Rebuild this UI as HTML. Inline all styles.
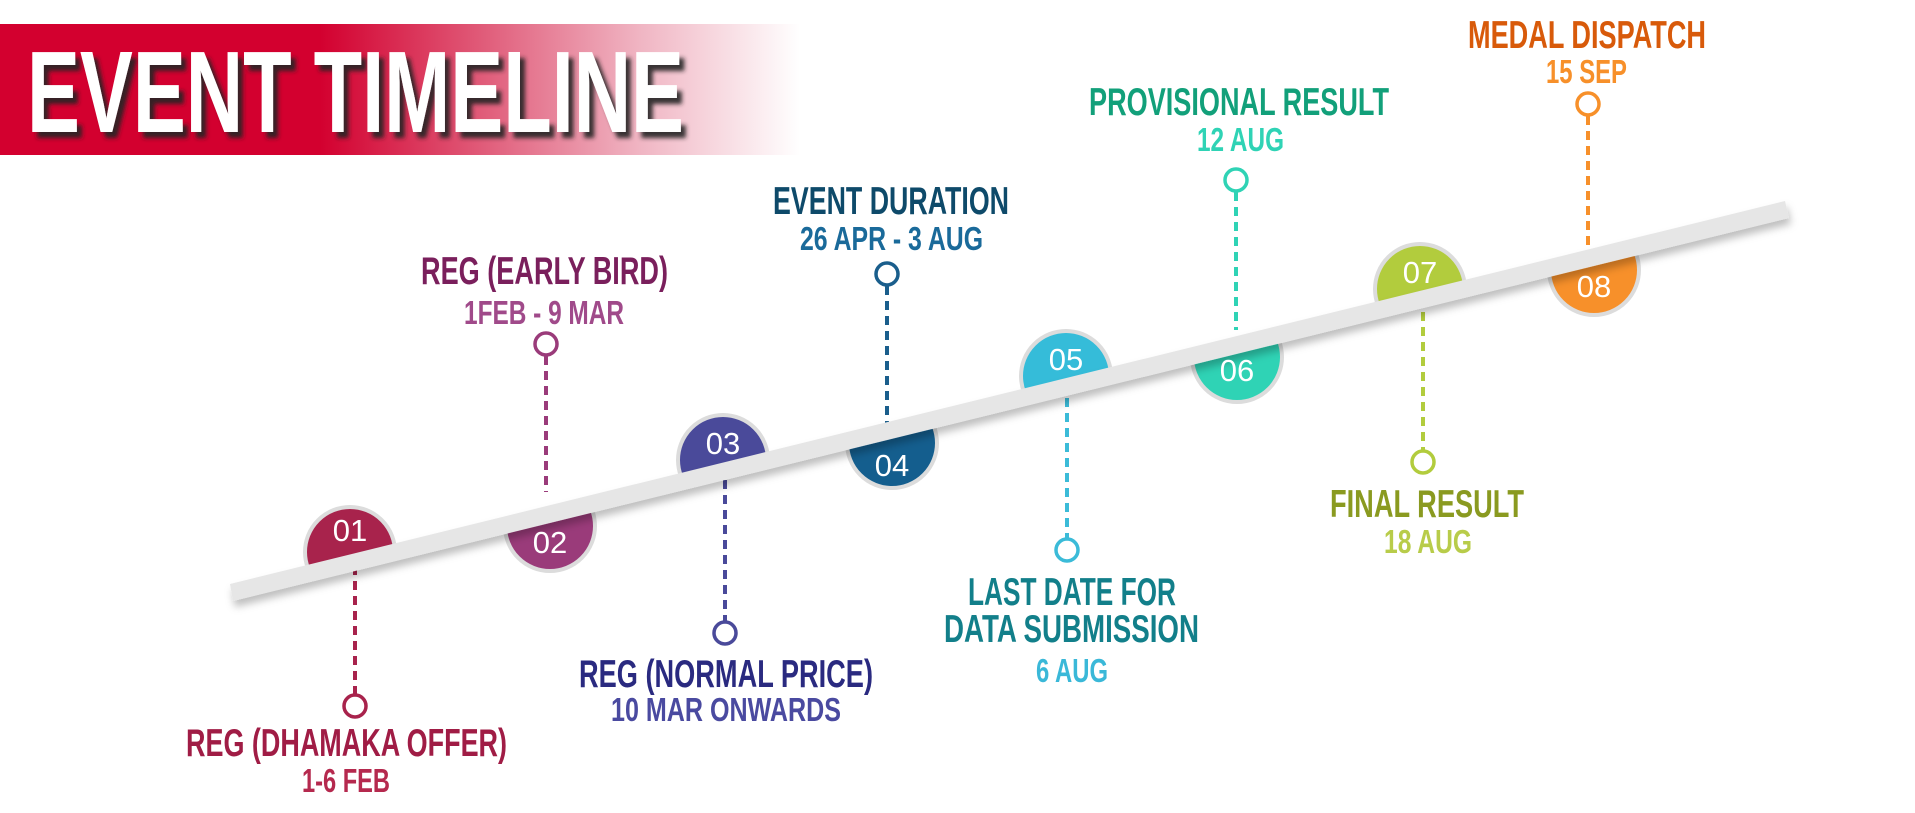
<!DOCTYPE html>
<html><head><meta charset="utf-8"><style>
html,body{margin:0;padding:0;background:#fff;}
svg{display:block;}
text{font-family:"Liberation Sans",sans-serif;font-weight:bold;}
text.n{font-weight:normal;}
</style></head><body>
<svg width="1915" height="813" viewBox="0 0 1915 813" xmlns="http://www.w3.org/2000/svg">
<defs>
<linearGradient id="ban" x1="0" x2="1" y1="0" y2="0">
<stop offset="0" stop-color="#d3002f"/>
<stop offset="0.4" stop-color="#d3002f"/>
<stop offset="0.6" stop-color="#e05a78"/>
<stop offset="0.8" stop-color="#f0b5c3"/>
<stop offset="1" stop-color="#ffffff"/>
</linearGradient>
<filter id="sh" x="-5%" y="-5%" width="115%" height="130%"><feDropShadow dx="5" dy="6" stdDeviation="2" flood-color="#222" flood-opacity="0.9"/></filter>
<filter id="bs" x="-5%" y="-50%" width="110%" height="300%"><feDropShadow dx="2" dy="6" stdDeviation="4" flood-color="#000" flood-opacity="0.25"/></filter>
<clipPath id="above"><polygon points="0,0 1915,0 1915,175.2 0,648.7"/></clipPath>
<clipPath id="below"><polygon points="0,648.7 1915,175.2 1915,813 0,813"/></clipPath>
</defs>
<rect x="0" y="24" width="800" height="131" fill="url(#ban)"/>
<text x="27" y="132" font-size="116" fill="#fff" textLength="657" lengthAdjust="spacingAndGlyphs" filter="url(#sh)">EVENT TIMELINE</text>

<g stroke-width="4" stroke-dasharray="9,6" fill="none">
<line x1="355" y1="566" x2="355" y2="694" stroke="#a8234c"/>
<line x1="546" y1="356" x2="546" y2="492" stroke="#9a3b7a"/>
<line x1="725" y1="480" x2="725" y2="621" stroke="#4a4a9a"/>
<line x1="887" y1="286" x2="887" y2="425" stroke="#1a5e8c"/>
<line x1="1067" y1="398" x2="1067" y2="538" stroke="#3bbbd8"/>
<line x1="1236" y1="192" x2="1236" y2="330" stroke="#2fd3b5"/>
<line x1="1423" y1="312" x2="1423" y2="450" stroke="#b2cc3d"/>
<line x1="1588" y1="116" x2="1588" y2="250" stroke="#f7902a"/>
</g>
<g stroke-width="3.5" fill="#fff">
<circle cx="355" cy="706" r="11" stroke="#a8234c"/>
<circle cx="546" cy="344" r="11" stroke="#9a3b7a"/>
<circle cx="725" cy="633" r="11" stroke="#4a4a9a"/>
<circle cx="887" cy="274" r="11" stroke="#1a5e8c"/>
<circle cx="1067" cy="550" r="11" stroke="#3bbbd8"/>
<circle cx="1236" cy="180" r="11" stroke="#2fd3b5"/>
<circle cx="1423" cy="462" r="11" stroke="#b2cc3d"/>
<circle cx="1588" cy="104" r="11" stroke="#f7902a"/>
</g>

<g stroke="#dcdcdc" stroke-width="4">
<circle cx="350" cy="552" r="45" fill="#a8234c" clip-path="url(#above)"/>
<circle cx="550" cy="526" r="45" fill="#9a3b7a" clip-path="url(#below)"/>
<circle cx="723" cy="460" r="45" fill="#4a4a9a" clip-path="url(#above)"/>
<circle cx="892" cy="443" r="45" fill="#145e8e" clip-path="url(#below)"/>
<circle cx="1066" cy="376" r="45" fill="#35bcd9" clip-path="url(#above)"/>
<circle cx="1237" cy="357" r="45" fill="#2fd3b5" clip-path="url(#below)"/>
<circle cx="1420" cy="289" r="45" fill="#b2cc3d" clip-path="url(#above)"/>
<circle cx="1594" cy="270" r="45" fill="#f7902a" clip-path="url(#below)"/>
</g>

<polygon points="230,584 1785,201 1789,218 233,601" fill="#e6e6e6" filter="url(#bs)"/>

<g font-size="31" fill="#fff" text-anchor="middle">
<text class="n" x="350" y="541">01</text>
<text class="n" x="550" y="553">02</text>
<text class="n" x="723" y="454">03</text>
<text class="n" x="892" y="476">04</text>
<text class="n" x="1066" y="370">05</text>
<text class="n" x="1237" y="381">06</text>
<text class="n" x="1420" y="283">07</text>
<text class="n" x="1594" y="297">08</text>
</g>

<g font-size="39">
<text x="186" y="756" textLength="321" lengthAdjust="spacingAndGlyphs" fill="#a01c45">REG (DHAMAKA OFFER)</text>
<text x="302" y="792" textLength="88" lengthAdjust="spacingAndGlyphs" fill="#b5294e" font-size="33">1-6 FEB</text>
<text x="421" y="284" textLength="247" lengthAdjust="spacingAndGlyphs" fill="#7a1f5c">REG (EARLY BIRD)</text>
<text x="464" y="324" textLength="160" lengthAdjust="spacingAndGlyphs" fill="#a04a8a" font-size="33">1FEB - 9 MAR</text>
<text x="579" y="687" textLength="294" lengthAdjust="spacingAndGlyphs" fill="#2a2a80">REG (NORMAL PRICE)</text>
<text x="611" y="721" textLength="230" lengthAdjust="spacingAndGlyphs" fill="#4a4aa0" font-size="33">10 MAR ONWARDS</text>
<text x="773" y="214" textLength="236" lengthAdjust="spacingAndGlyphs" fill="#0e4a6a">EVENT DURATION</text>
<text x="800" y="250" textLength="183" lengthAdjust="spacingAndGlyphs" fill="#1a6a9a" font-size="33">26 APR - 3 AUG</text>
<text x="968" y="605" textLength="208" lengthAdjust="spacingAndGlyphs" fill="#127f8a">LAST DATE FOR</text>
<text x="944" y="642" textLength="255" lengthAdjust="spacingAndGlyphs" fill="#127f8a">DATA SUBMISSION</text>
<text x="1036" y="682" textLength="72" lengthAdjust="spacingAndGlyphs" fill="#3ab8d8" font-size="33">6 AUG</text>
<text x="1089" y="115" textLength="300" lengthAdjust="spacingAndGlyphs" fill="#12a07a">PROVISIONAL RESULT</text>
<text x="1197" y="151" textLength="87" lengthAdjust="spacingAndGlyphs" fill="#2fd3b5" font-size="33">12 AUG</text>
<text x="1330" y="517" textLength="194" lengthAdjust="spacingAndGlyphs" fill="#8a9a20">FINAL RESULT</text>
<text x="1384" y="553" textLength="88" lengthAdjust="spacingAndGlyphs" fill="#b8cc4a" font-size="33">18 AUG</text>
<text x="1468" y="48" textLength="238" lengthAdjust="spacingAndGlyphs" fill="#d85a0a">MEDAL DISPATCH</text>
<text x="1546" y="83" textLength="81" lengthAdjust="spacingAndGlyphs" fill="#f7902a" font-size="33">15 SEP</text>
</g>
</svg>
</body></html>
